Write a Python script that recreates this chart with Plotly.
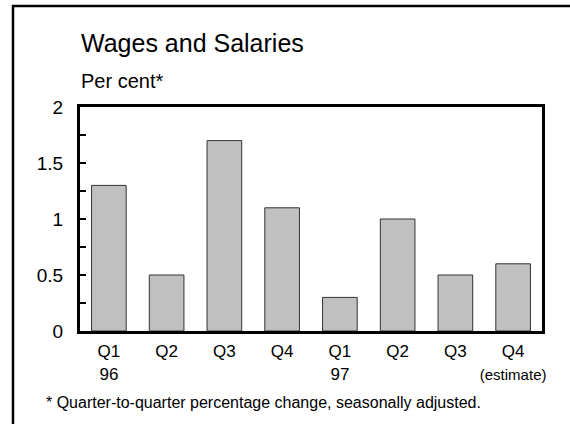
import plotly.graph_objects as go

# Quarterly wage and salary growth
quarters = ["Q1 96", "Q2 96", "Q3 96", "Q4 96", "Q1 97", "Q2 97", "Q3 97", "Q4 97"]
tick_text = ["Q1<br>96", "Q2<br> ", "Q3<br> ", "Q4<br> ", "Q1<br>97", "Q2<br> ", "Q3<br> ",
             "Q4<br><span style='font-size:15px'>(estimate)</span>"]
growth = [1.3, 0.5, 1.7, 1.1, 0.3, 1.0, 0.5, 0.6]
y_tick_vals = [0, 0.5, 1, 1.5, 2]
y_tick_text = ["0", "0.5", "1", "1.5", "2"]

W, H = 570, 424
L, R, T, B = 80, 28, 107, 93
pw, ph = W - L - R, H - T - B

def px_x(x):
    return (x - L) / pw

def px_y(y):
    return (H - B - y) / ph

FONT = "Liberation Sans, Arial, sans-serif"

fig = go.Figure(go.Bar(
    x=quarters, y=growth, width=0.6,
    marker=dict(color="#c0c0c0", line=dict(color="#333333", width=1)),
))

fig.update_layout(
    width=W, height=H,
    margin=dict(l=L, r=R, t=T, b=B),
    paper_bgcolor="white", plot_bgcolor="white",
    font=dict(family=FONT, size=17, color="black"),
    showlegend=False,
    bargap=0.4,
)

fig.update_xaxes(
    tickmode="array", tickvals=quarters, ticktext=tick_text,
    showline=True, linecolor="black", linewidth=3, mirror=True,
    ticks="", showgrid=False, tickfont=dict(size=17), ticklabelstandoff=3,
)
fig.update_yaxes(
    range=[0, 2], tickmode="array", tickvals=y_tick_vals, ticktext=y_tick_text,
    showline=True, linecolor="black", linewidth=3, mirror=True,
    ticks="inside", ticklen=6, tickwidth=2, tickcolor="black",
    minor=dict(dtick=0.25, ticks="inside", ticklen=6, tickwidth=2, tickcolor="black"),
    showgrid=False, zeroline=False, tickfont=dict(size=19), ticklabelstandoff=10,
)

# Outer frame, open to the right and bottom
fig.add_shape(type="path", xref="paper", yref="paper",
              path=f"M {px_x(13)} {px_y(440)} L {px_x(13)} {px_y(6)} L {px_x(600)} {px_y(6)}",
              line=dict(color="black", width=2.5))

fig.add_annotation(text="Wages and Salaries", xref="paper", yref="paper",
                   x=px_x(79), y=px_y(43), xanchor="left", yanchor="middle",
                   showarrow=False, font=dict(size=25))
fig.add_annotation(text="Per cent*", xref="paper", yref="paper",
                   x=px_x(79), y=px_y(81), xanchor="left", yanchor="middle",
                   showarrow=False, font=dict(size=20))
fig.add_annotation(text="* Quarter-to-quarter percentage change, seasonally adjusted.",
                   xref="paper", yref="paper",
                   x=px_x(44), y=px_y(402), xanchor="left", yanchor="middle",
                   showarrow=False, font=dict(size=16))

fig.write_html("out.html")
